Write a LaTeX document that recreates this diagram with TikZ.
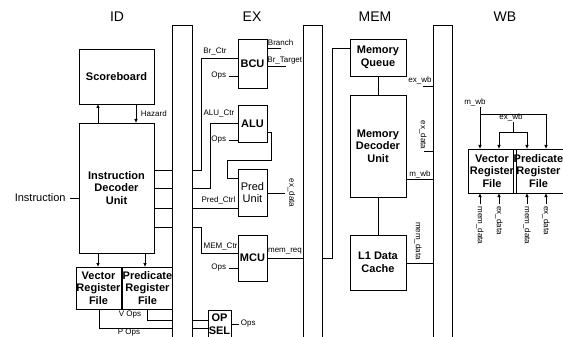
\documentclass[tikz,border=0pt]{standalone}
\usepackage{fontspec}
\setmainfont{Liberation Sans}
\usetikzlibrary{arrows.meta}
\begin{document}
\begin{tikzpicture}[x=1pt,y=-1pt,line width=0.9pt,
  unitbox/.style={draw,line width=0.9pt,align=center,inner sep=0pt,outer sep=0pt,
    font=\bfseries\fontsize{11}{12.5}\selectfont},
  plainbox/.style={unitbox,font=\fontsize{11}{12.5}\selectfont},
  pipereg/.style={draw,line width=0.9pt,inner sep=0pt,outer sep=0pt,minimum height=320pt},
  lbl/.style={font=\fontsize{8}{9}\selectfont,inner sep=0.5pt},
  ttl/.style={font=\fontsize{14}{16}\selectfont,inner sep=0pt},
  arr/.style={-{Latex[length=4pt,width=3.6pt]}}]
\useasboundingbox (0,0) rectangle (563,337);
\clip (0,0) rectangle (563,337);

% titles
\node[ttl] (tID) at (117,17) {ID};
\node[ttl] (tEX) at (252,17) {EX};
\node[ttl] (tMEM) at (375,17) {MEM};
\node[ttl] (tWB) at (505,17) {WB};

% pipeline registers
\node[pipereg,minimum width=20pt] (regA) at (182,185) {};
\node[pipereg,minimum width=19pt] (regB) at (312.5,185) {};
\node[pipereg,minimum width=19pt] (regC) at (442.5,185) {};

% ID stage
\node[unitbox,minimum width=75pt,minimum height=55pt] (sb) at (116.5,76.5) {Scoreboard};
\node[unitbox,minimum width=75pt,minimum height=130pt] (idu) at (116.5,188) {Instruction\\Decoder\\Unit};
\node[unitbox,minimum width=45pt,minimum height=42pt] (vrf) at (98.5,288) {Vector\\Register\\File};
\node[unitbox,minimum width=47pt,minimum height=42pt] (prf) at (147.5,288) {Predicate\\Register\\File};

\draw[arr] (idu.north -| 98,0) -- (sb.south -| 98,0);
\draw[arr] (sb.south -| 136,0) -- (idu.north -| 136,0);
\node[lbl,anchor=west] (hz) at (140,114) {Hazard};

\node[anchor=east,inner sep=0pt,font=\fontsize{11}{12.5}\selectfont] (instr) at (66,198) {Instruction};
\draw ([xshift=4pt]instr.east) -- (idu.west |- instr.east);

\foreach \yy in {170,188,208,227} \draw (idu.east |- 0,\yy) -- (regA.west |- 0,\yy);

\draw[arr] (idu.south -| 98,0) -- (vrf.north -| 98,0);
\draw[arr] (idu.south -| 145,0) -- (prf.north -| 145,0);

\draw (prf.south -| 147,0) |- (regA.west |- 0,320);
\draw (vrf.south -| 99,0) |- (regA.west |- 0,328);
\node[lbl] (vops) at (130,315) {V Ops};
\node[lbl] (pops) at (129,333) {P Ops};

% EX stage
\node[unitbox,minimum width=29pt,minimum height=49pt] (bcu) at (252.5,63.5) {BCU};
\node[unitbox,minimum width=29pt,minimum height=37pt] (alu) at (252.5,123.5) {ALU};
\node[plainbox,minimum width=29pt,minimum height=47pt] (pred) at (252.5,192.5) {Pred\\Unit};
\node[unitbox,minimum width=29pt,minimum height=46pt] (mcu) at (252.5,258) {MCU};
\node[unitbox,minimum width=23pt,minimum height=28pt] (opsel) at (219.5,324) {OP\\SEL};

\draw (regA.east |- 0,170) -- (201,170) -- (201,58) -- (bcu.west |- 0,58);
\node[lbl] (lbr) at (215,52) {Br\_Ctr};
\draw (regA.east |- 0,188) -- (210,188) -- (210,123) -- (alu.west |- 0,123);
\node[lbl] (lalu) at (219,113.5) {ALU\_Ctr};
\draw (regA.east |- 0,208) -- (pred.west |- 0,208);
\node[lbl] (lpred) at (218.5,200.5) {Pred\_Ctrl};
\draw (regA.east |- 0,227) -- (201,227) -- (201,253) -- (mcu.west |- 0,253);
\node[lbl] (lmem) at (220.5,247) {MEM\_Ctr};

\node[lbl,anchor=east] (opsb) at (227,76) {Ops};
\draw ([xshift=1.5pt]opsb.east) -- (bcu.west |- opsb.east);
\node[lbl,anchor=east] (opsa) at (227,140) {Ops};
\draw ([xshift=1.5pt]opsa.east) -- (alu.west |- opsa.east);
\node[lbl,anchor=east] (opsm) at (227,268) {Ops};
\draw ([xshift=1.5pt]opsm.east) -- (mcu.west |- opsm.east);

\coordinate (brE) at (281,48);
\draw (bcu.east |- brE) -- (brE);
\node[lbl,anchor=south west] (lbranch) at (267,47) {Branch};
\coordinate (btE) at (286,66);
\draw (bcu.east |- btE) -- (btE);
\node[lbl,anchor=south west] (lbt) at (266.5,65.5) {Br\_Target};

\draw (alu.east |- 0,132) -- (271,132) -- (271,160) -- (227,160) -- (227,178) -- (pred.west |- 0,178);
\coordinate (exdE) at (285,193);
\draw (pred.east |- exdE) -- (exdE);
\node[lbl,rotate=-90] (lexd) at (291.5,193) {ex\_data};

\draw (mcu.east |- 0,258) -- (regB.west |- 0,258);
\node[lbl] (lmreq) at (285,251) {mem\_req};

\draw (regA.east |- 0,320) -- (opsel.west |- 0,320);
\draw (regA.east |- 0,328) -- (opsel.west |- 0,328);
\coordinate (opsE) at (239,324);
\draw (opsel.east |- opsE) -- (opsE);
\node[lbl,anchor=west] (lops) at (240,324) {Ops};

% MEM stage
\node[unitbox,minimum width=56pt,minimum height=37pt] (mq) at (378,57.5) {Memory\\Queue};
\node[unitbox,minimum width=56pt,minimum height=102pt] (mdu) at (378,146) {Memory\\Decoder\\Unit};
\node[unitbox,minimum width=56pt,minimum height=55pt] (l1) at (378,262.5) {L1 Data\\Cache};

\draw (regB.east |- 0,258) -- (332,258) -- (332,48) -- (mq.west |- 0,48);
\draw (mq.south) -- (mdu.north);
\draw (mdu.south) -- (l1.north);

\coordinate (exwbS) at (423,86);
\draw (exwbS) -- (regC.west |- exwbS);
\node[lbl] (lexwb) at (420,80.5) {ex\_wb};
\coordinate (exdS) at (424,151);
\draw (exdS) -- (regC.west |- exdS);
\node[lbl,rotate=-90] (lexd2) at (423,135) {ex\_data};
\draw (mdu.east |- 0,179) -- (regC.west |- 0,179);
\node[lbl] (lmwb) at (420,174) {m\_wb};
\draw (l1.east |- 0,263) -- (regC.west |- 0,263);
\node[lbl,rotate=-90] (lmd) at (418,241) {mem\_data};

% WB stage
\node[unitbox,minimum width=48pt,minimum height=44pt] (wvrf) at (492,171) {Vector\\Register\\File};
\node[unitbox,minimum width=45pt,minimum height=44pt] (wprf) at (538.5,171) {Predicate\\Register\\File};

\node[lbl] (wmwb) at (475,102) {m\_wb};
\draw[arr] (480,107) -- (wvrf.north -| 480,0);
\draw[arr] (480,114) -| (wprf.north -| 546,0);
\node[lbl] (wexwb) at (511,117.5) {ex\_wb};
\draw (513,122) -- (513,132);
\draw[arr] (513,132) -| (wvrf.north -| 499,0);
\draw[arr] (513,132) -| (wprf.north -| 527,0);

\foreach \xx/\tt/\nm in {480/mem\_data/a,499/ex\_data/b,527/mem\_data/c,546/ex\_data/d}{
  \coordinate (bot\nm) at (\xx,204);
  \draw[arr] (bot\nm) -- (wvrf.south -| bot\nm);
  \node[lbl,rotate=-90,anchor=west] (bl\nm) at (\xx,205.5) {\tt};
}
\end{tikzpicture}
\end{document}
